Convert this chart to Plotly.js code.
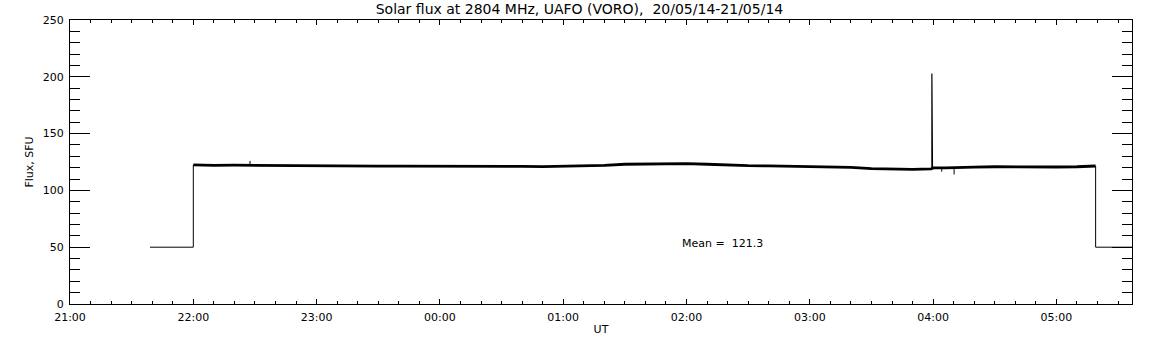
<!DOCTYPE html>
<html>
<head>
<meta charset="utf-8">
<script src="https://cdn.plot.ly/plotly-3.0.1.min.js"></script>
<style>html,body{margin:0;padding:0;background:#fff;}#chart{width:1152px;height:345px;}</style>
</head>
<body>
<div id="chart"></div>
<script>
// Time in hours UT (values > 24 are next day), flux in SFU
// Before the receiver came on (flat 50 level and jump at 22:00)
const preTimes = [21.649, 22.0, 22.0];
const preFlux  = [50, 50, 122.5];
// Main observed record
const mainTimes = [22.0, 22.1667, 22.3333, 22.5, 22.6667, 22.8333,
  23.0, 23.1667, 23.3333, 23.5, 23.6667, 23.8333, 24.0, 24.1667, 24.3333, 24.5, 24.6667, 24.8333,
  25.0, 25.1667, 25.3333, 25.5, 25.6667, 25.8333, 26.0, 26.1667, 26.3333, 26.5, 26.6667, 26.8333,
  27.0, 27.1667, 27.3333, 27.5, 27.6667, 27.8333, 27.985, 28.0, 28.1, 28.17, 28.3333, 28.5, 28.6667, 28.8333,
  29.0, 29.1667, 29.25, 29.318];
const mainFlux = [122.5, 122.0, 122.2, 122.0, 122.0, 121.8,
  121.6, 121.5, 121.5, 121.4, 121.3, 121.3, 121.2, 121.5, 121.8, 121.5, 121.2, 121.0,
  121.3, 121.6, 122.0, 123.0, 123.2, 123.3, 123.5, 123.0, 122.3, 121.8, 121.6, 121.2,
  121.0, 120.8, 120.2, 119.2, 118.6, 118.5, 119.0, 119.8, 119.8, 120.2, 120.5, 120.8, 120.6, 120.5,
  120.6, 120.8, 121.5, 121.5];
// Burst near 04:00 UT
const spikeTimes = [27.99, 27.99, 27.99, 27.995, 27.995];
const spikeFlux  = [119.5, 203.0, 119.5, 158.0, 119.5];
// Short single-sample glitches
const glitchTimes = [22.46, 22.46, null, 28.07, 28.07, null, 28.17, 28.17];
const glitchFlux  = [122.0, 126.0, null, 119.8, 116.5, null, 120.0, 114.0];
// After the record ended (drop back to 50)
const postTimes = [29.318, 29.318, 29.62];
const postFlux  = [121.5, 50, 50];

const xTickVals = [21, 22, 23, 24, 25, 26, 27, 28, 29];
const xTickText = ["21:00", "22:00", "23:00", "00:00", "01:00", "02:00", "03:00", "04:00", "05:00"];
const meanText = "Mean =\u00a0 121.3";
const meanPos = [25.95, 53.7];

const font = {family: "DejaVu Sans, sans-serif", size: 11, color: "#000"};

function line(x, y, w) {
  return {x: x, y: y, type: "scatter", mode: "lines", line: {color: "#000", width: w}, hoverinfo: "skip", connectgaps: false};
}

Plotly.newPlot("chart", [
  line(preTimes, preFlux, 1),
  line(mainTimes, mainFlux, 2.8),
  line(spikeTimes, spikeFlux, 1.2),
  line(glitchTimes, glitchFlux, 1),
  line(postTimes, postFlux, 1)
], {
  width: 1152, height: 345,
  margin: {l: 70, r: 20, t: 20, b: 41},
  paper_bgcolor: "#fff", plot_bgcolor: "#fff",
  showlegend: false,
  font: font,
  title: {text: "Solar flux at 2804 MHz, UAFO (VORO),\u00a0 20/05/14-21/05/14",
    x: 0.503, xref: "container", xanchor: "center", y: 0.975, yanchor: "middle",
    font: {family: "DejaVu Sans, sans-serif", size: 14, color: "#000"}},
  xaxis: {
    range: [21, 29.613], showgrid: false, zeroline: false,
    showline: true, linecolor: "#000", linewidth: 1, mirror: "ticks",
    ticks: "inside", ticklen: 5, tickcolor: "#000", tickwidth: 1,
    tickmode: "array", tickvals: xTickVals, ticktext: xTickText,
    ticklabelstandoff: 3,
    minor: {dtick: 1/6, tick0: 21, ticks: "inside", ticklen: 3, tickcolor: "#000", tickwidth: 1, showgrid: false},
    title: {text: "UT", font: font, standoff: 2}
  },
  yaxis: {
    range: [0, 250], showgrid: false, zeroline: false,
    showline: true, linecolor: "#000", linewidth: 1, mirror: "ticks",
    ticks: "inside", ticklen: 20, tickcolor: "#000", tickwidth: 1,
    tickmode: "linear", tick0: 0, dtick: 50,
    ticklabelstandoff: 3,
    minor: {dtick: 10, tick0: 0, ticks: "inside", ticklen: 10, tickcolor: "#000", tickwidth: 1, showgrid: false},
    title: {text: "Flux, SFU", font: font, standoff: 6}
  },
  annotations: [{
    x: meanPos[0], y: meanPos[1], xref: "x", yref: "y", text: meanText,
    showarrow: false, xanchor: "left", yanchor: "middle", font: font
  }]
}, {staticPlot: true});
</script>
</body>
</html>
